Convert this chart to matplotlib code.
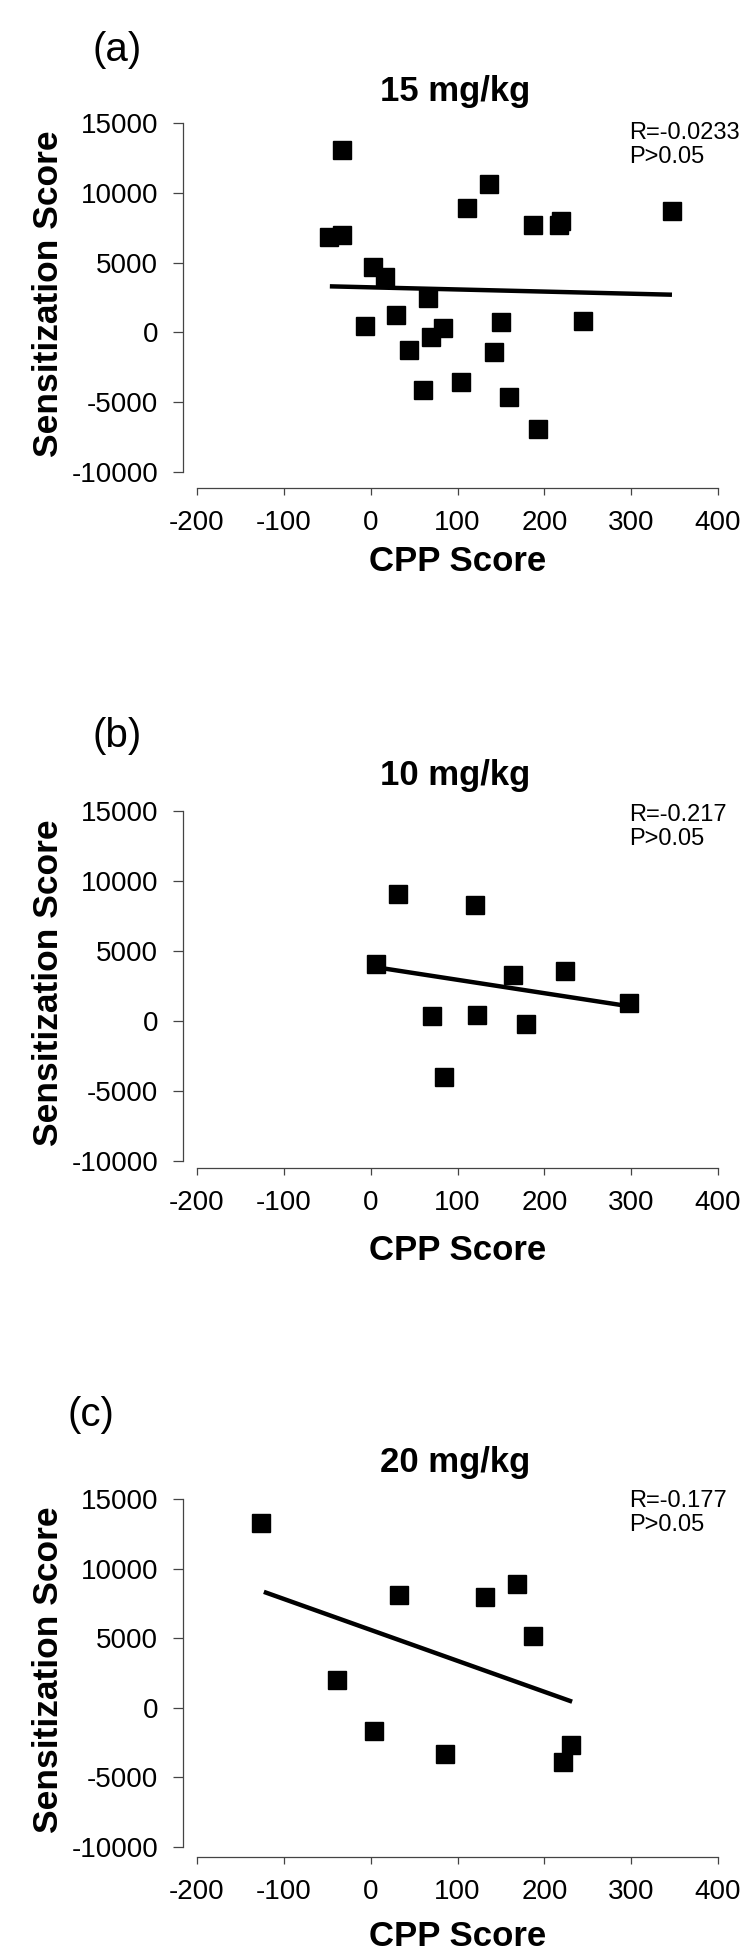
import matplotlib
matplotlib.use("Agg")
import matplotlib.pyplot as plt

plt.rcParams.update({
    "font.family": ["Liberation Sans", "DejaVu Sans"],
    "axes.spines.top": False,
    "axes.spines.right": False,
    "axes.unicode_minus": False,
})

# ------------------------------------------------------------------
# Data
# ------------------------------------------------------------------
PANELS = ["(a)", "(b)", "(c)"]
DOSES = ["15 mg/kg", "10 mg/kg", "20 mg/kg"]
STATS = ["R=-0.0233\nP>0.05", "R=-0.217\nP>0.05", "R=-0.177\nP>0.05"]

cpp_15 = [-48, -33, -33, -7, 3, 17, 29, 44, 60, 66, 69, 83, 104, 111,
          136, 142, 150, 159, 187, 193, 217, 219, 244, 347]
sens_15 = [6850, 7000, 13100, 480, 4650, 3950, 1250, -1230, -4130, 2450,
           -300, 290, -3530, 8900, 10600, -1400, 720, -4640, 7700, -6900,
           7700, 7950, 850, 8700]
fit_x_15 = [-47, 347]
fit_y_15 = [3300, 2700]

cpp_10 = [6, 31, 71, 85, 120, 123, 164, 179, 224, 298]
sens_10 = [4100, 9050, 350, -3980, 8250, 440, 3300, -200, 3550, 1250]
fit_x_10 = [5, 298]
fit_y_10 = [3850, 1050]

cpp_20 = [-126, -39, 4, 33, 86, 132, 168, 187, 222, 231]
sens_20 = [13300, 2000, -1700, 8100, -3300, 7950, 8900, 5150, -3900, -2700]
fit_x_20 = [-123, 232]
fit_y_20 = [8330, 440]

X_TICKS = [-200, -100, 0, 100, 200, 300, 400]
Y_TICKS = [-10000, -5000, 0, 5000, 10000, 15000]

series = [
    (cpp_15, sens_15, fit_x_15, fit_y_15),
    (cpp_10, sens_10, fit_x_10, fit_y_10),
    (cpp_20, sens_20, fit_x_20, fit_y_20),
]

# layout: axes boxes in pixels (left, top, right, bottom) of a 750x1959 canvas
W, H = 750, 1959
boxes = [(197, 123, 718, 472), (197, 811, 718, 1161), (197, 1499, 718, 1847)]
x_offset_px = [16, 7, 10]
letter_pos = [(-0.154, 1.209), (-0.154, 1.215), (-0.203, 1.241)]
stats_y = [0.937, 0.954, 0.96]
title_y = [1.089, 1.1, 1.106]

fig = plt.figure(figsize=(W / 100, H / 100), dpi=100)

for i, (xs, ys, fx, fy) in enumerate(series):
    l, t, r, b = boxes[i]
    ax = fig.add_axes([l / W, 1 - b / H, (r - l) / W, (b - t) / H])
    ax.plot(xs, ys, "s", color="black", markersize=13.5, clip_on=False)
    ax.plot(fx, fy, color="black", linewidth=3.2, solid_capstyle="butt")

    ax.set_xlim(-200, 400)
    ax.set_ylim(-10000, 15000)
    ax.set_xticks(X_TICKS)
    ax.set_yticks(Y_TICKS)
    ax.tick_params(labelsize=20, width=0.9, color="#444444", pad=11)
    ax.tick_params(axis="y", length=7)
    ax.tick_params(axis="x", length=5)
    ax.spines["left"].set_position(("outward", 10))
    ax.spines["bottom"].set_position(("outward", x_offset_px[i] * 0.72))
    for side in ("left", "bottom"):
        ax.spines[side].set_color("#444444")
        ax.spines[side].set_linewidth(0.9)

    ax.text(-0.285, 0.51, "Sensitization Score", transform=ax.transAxes,
            rotation=90, fontsize=25.5, fontweight="bold",
            ha="center", va="center")
    ax.text(0.5, -0.257, "CPP Score", transform=ax.transAxes,
            fontsize=25, fontweight="bold", ha="center", va="center")
    ax.text(0.495, title_y[i], DOSES[i], transform=ax.transAxes,
            fontsize=25, fontweight="bold", ha="center", va="center")
    ax.text(letter_pos[i][0], letter_pos[i][1], PANELS[i],
            transform=ax.transAxes, fontsize=29, ha="center", va="center")
    ax.text(0.83, stats_y[i], STATS[i], transform=ax.transAxes,
            fontsize=17, ha="left", va="center", linespacing=1.15)

fig.savefig("out.png", dpi=100, facecolor="white")
